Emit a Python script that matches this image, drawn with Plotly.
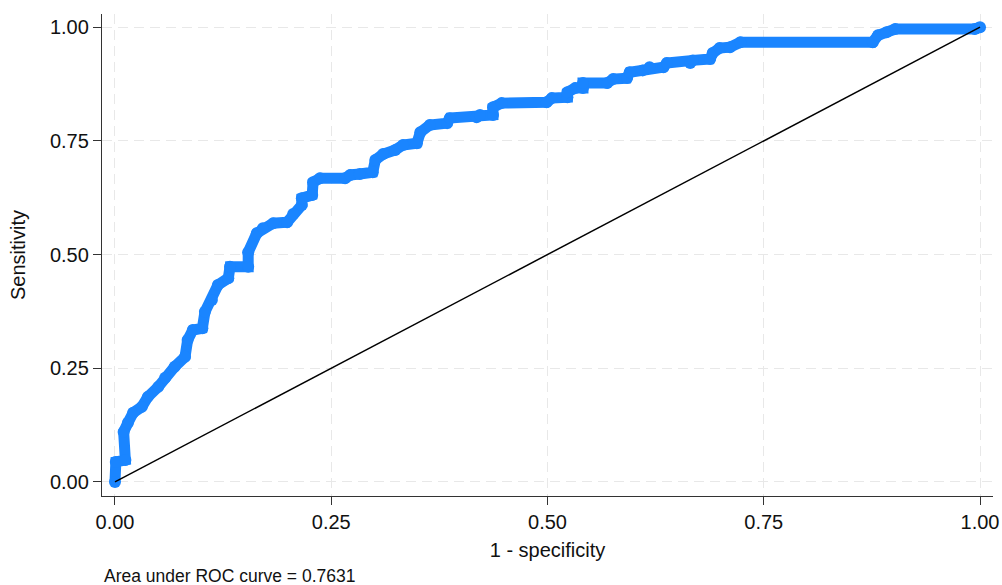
import plotly.graph_objects as go

# ROC curve points (1 - specificity, sensitivity)
fpr = [0.000, 0.001, 0.012, 0.010, 0.015, 0.021, 0.031, 0.038, 0.050, 0.058,
       0.069, 0.081, 0.084, 0.090, 0.101, 0.104, 0.112, 0.119, 0.131, 0.133,
       0.154, 0.154, 0.164, 0.171, 0.183, 0.199, 0.206, 0.216, 0.216, 0.228,
       0.229, 0.237, 0.266, 0.272, 0.283, 0.298, 0.301, 0.310, 0.324, 0.333,
       0.349, 0.353, 0.364, 0.384, 0.387, 0.418, 0.422, 0.437, 0.437, 0.447,
       0.499, 0.505, 0.523, 0.523, 0.532, 0.541, 0.541, 0.569, 0.576, 0.592,
       0.595, 0.610, 0.618, 0.634, 0.638, 0.665, 0.668, 0.688, 0.691, 0.699,
       0.711, 0.723, 0.876, 0.882, 0.892, 0.902, 0.994, 1.000]
tpr = [0.000, 0.044, 0.048, 0.110, 0.130, 0.152, 0.165, 0.187, 0.209, 0.229,
       0.253, 0.275, 0.312, 0.334, 0.338, 0.374, 0.400, 0.433, 0.448, 0.473,
       0.473, 0.505, 0.547, 0.558, 0.569, 0.571, 0.589, 0.609, 0.624, 0.631,
       0.659, 0.668, 0.668, 0.675, 0.677, 0.681, 0.708, 0.721, 0.730, 0.741,
       0.745, 0.769, 0.785, 0.789, 0.800, 0.802, 0.807, 0.807, 0.824, 0.833,
       0.835, 0.844, 0.846, 0.857, 0.866, 0.866, 0.877, 0.877, 0.886, 0.888,
       0.901, 0.905, 0.912, 0.912, 0.921, 0.921, 0.927, 0.930, 0.943, 0.954,
       0.956, 0.967, 0.967, 0.982, 0.989, 0.996, 0.996, 1.000]

ref_x = [0, 1]
ref_y = [0, 1]

tick_vals = [0, 0.25, 0.5, 0.75, 1.0]
tick_text = ["0.00", "0.25", "0.50", "0.75", "1.00"]

x_title = "1 - specificity"
y_title = "Sensitivity"
note = "Area under ROC curve = 0.7631"

FONT = "Liberation Sans, Arial, sans-serif"
BLUE = "#1a85ff"

fig = go.Figure()
fig.add_trace(go.Scatter(
    x=fpr, y=tpr, mode="lines+markers",
    line=dict(color=BLUE, width=11),
    marker=dict(color=BLUE, size=12),
    hoverinfo="skip", showlegend=False,
))
fig.add_trace(go.Scatter(
    x=ref_x, y=ref_y, mode="lines",
    line=dict(color="black", width=1.5),
    hoverinfo="skip", showlegend=False,
))

axis_common = dict(
    tickvals=tick_vals, ticktext=tick_text,
    showgrid=True, gridcolor="#e8e8e8", gridwidth=1.2, griddash="10px,6px",
    zeroline=False,
    showline=True, linecolor="#333333", linewidth=1.3,
    ticks="outside", ticklen=8, tickwidth=1.3, tickcolor="#333333",
    tickfont=dict(family=FONT, size=20, color="#111111"),
)

fig.update_xaxes(
    range=[-0.015, 1.015],
    title=dict(text=x_title, font=dict(family=FONT, size=20, color="#111111"), standoff=10),
    **axis_common,
)
fig.update_yaxes(
    range=[-0.031, 1.029],
    title=dict(text=y_title, font=dict(family=FONT, size=20, color="#111111"), standoff=18),
    **axis_common,
)

fig.add_annotation(
    text=note, xref="paper", yref="paper", x=0.0, y=-0.165,
    xanchor="left", yanchor="middle", showarrow=False,
    font=dict(family=FONT, size=17.5, color="#111111"),
)

fig.update_layout(
    width=1002, height=585,
    margin=dict(l=102, r=9, t=14, b=89, autoexpand=False),
    plot_bgcolor="white", paper_bgcolor="white",
    font=dict(family=FONT),
)

# remove the default page margin and scrollbars so the figure fills the window
fig.write_html(
    "out.html",
    config={"displayModeBar": False},
    post_script="document.documentElement.style.overflow='hidden';"
                "document.body.style.margin='0';"
                "document.body.style.overflow='hidden';",
)
